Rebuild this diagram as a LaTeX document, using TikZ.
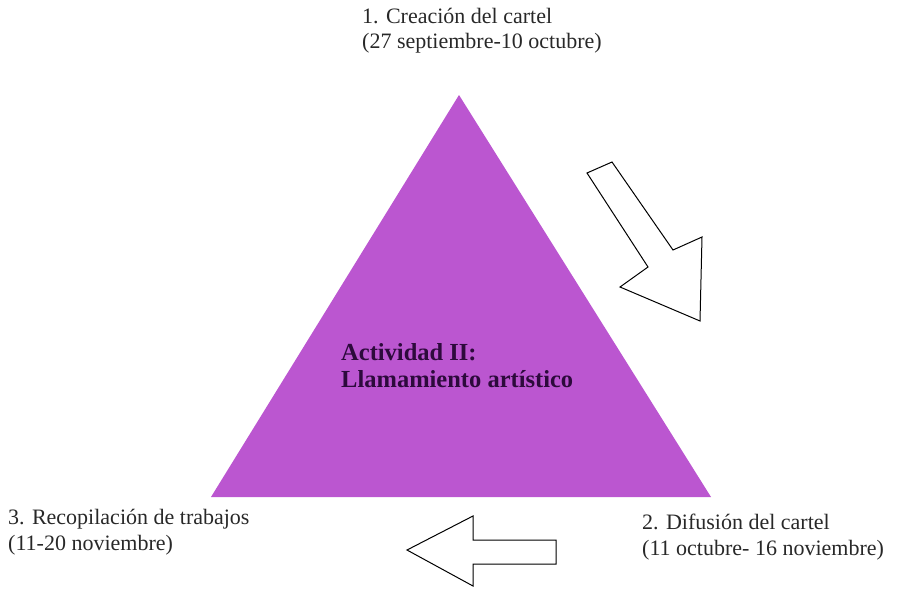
\documentclass[tikz,border=0pt]{standalone}
\usepackage{fontspec}
\setmainfont{Liberation Serif}
\usepackage{tikz}
\usetikzlibrary{calc}
\definecolor{orchid}{RGB}{187,86,208}
\definecolor{inktext}{RGB}{45,10,60}
\definecolor{graytext}{RGB}{40,40,40}
\tikzset{
	etapa/.style={anchor=north west, inner sep=0pt, align=left, text=graytext, font=\fontsize{22}{25.5}\selectfont},
	flecha/.style={draw=black, line width=1pt, fill=white, line join=miter}
}

\begin{document}
\begin{tikzpicture}[x=1pt, y=-1pt]
		%%%%% START %%%%%
		\useasboundingbox (0, 0) rectangle (913, 594);
		
		\draw[fill=orchid, draw=none] (459, 95) -- (711, 497) -- (211, 497) -- cycle;
		
		\node[etapa, font=\bfseries\fontsize{24.5}{27}\selectfont, text=inktext] (actividad) at (341, 343) {Actividad II:\\Llamamiento artístico};
		
		\node[etapa] (creacion) at (362, 8) {1. Creación del cartel\\(27 septiembre-10 octubre)};
		\node[etapa] (difusion) at (642, 514) {2. Difusión del cartel\\(11 octubre- 16 noviembre)};
		\node[etapa] (recopilacion) at (8, 509) {3. Recopilación de trabajos\\(11-20 noviembre)};
		
		\draw[flecha] (587, 173) -- (612, 162) -- (673, 250) -- (702, 237) -- (700, 321) -- (620, 287) -- (648, 267) -- cycle;
		
		\draw[flecha] (407, 550) -- (473, 516) -- (473, 540) -- (556, 540) -- (556, 564) -- (473, 564) -- (473, 586) -- cycle;
		
		%%%%% END %%%%%
	\end{tikzpicture}
\end{document}
